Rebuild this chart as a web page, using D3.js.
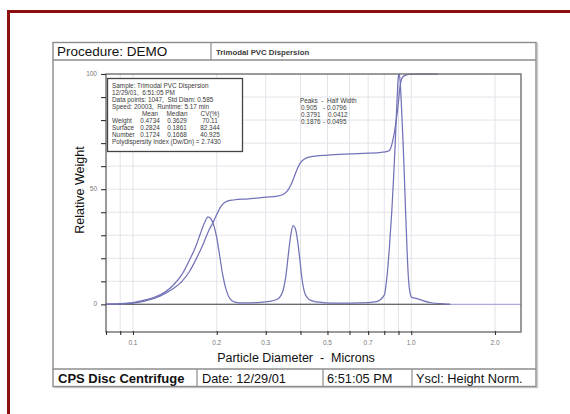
<!DOCTYPE html>
<html><head><meta charset="utf-8">
<script src="https://cdn.jsdelivr.net/npm/d3@7"></script>
<style>
body{margin:0;background:#fff}
text{font-family:"Liberation Sans",Arial,sans-serif}
</style>
</head><body>
<svg id="c" width="570" height="414"></svg>
<script>
// ---------- data ----------
const diffDiam = [0.080,0.090,0.100,0.110,0.120,0.130,0.140,0.150,0.160,0.168,0.175,0.181,0.186,0.191,0.196,0.200,0.205,0.210,0.216,0.223,0.232,0.250,0.280,0.310,0.330,0.345,0.355,0.362,0.369,0.376,0.383,0.390,0.397,0.404,0.412,0.422,0.440,0.480,0.550,0.650,0.750,0.800,0.818,0.835,0.852,0.865,0.876,0.888,0.899,0.905,0.912,0.923,0.935,0.945,0.954,0.965,0.976,0.990,1.005,1.050,1.100,1.180,1.300,1.380];
const diffVal  = [0.1,0.3,0.8,1.8,3.2,5.2,8.5,13,19.5,25,31,35.5,38,37,33.5,29,21,13,6.5,2.5,1.0,0.6,0.8,1.3,2.2,5.5,13,22,30,34.2,33,28,20.5,12,6,3,1.5,0.8,0.5,0.6,1.2,4,12,25,41,56,70,87,99,100,97,85,70,55,41,25,12.3,5,3,2.5,1.6,0.7,0.2,0];
const cumDiam  = [0.080,0.090,0.100,0.110,0.125,0.140,0.150,0.160,0.170,0.180,0.188,0.194,0.200,0.207,0.217,0.230,0.260,0.300,0.330,0.347,0.360,0.370,0.380,0.390,0.400,0.415,0.433,0.500,0.600,0.700,0.780,0.820,0.838,0.850,0.865,0.876,0.888,0.899,0.910,0.922,0.935,0.960,1.000,1.250];
const cumVal   = [0,0.2,0.5,1.4,3.6,7,10,14.5,20.5,27,32.5,35.5,39,42.5,44.7,45.3,45.8,46.5,47,47.8,49.5,52,55.5,59,61.5,63.2,64,64.8,65.3,65.6,66,66.4,67,69,73,77,82,87.5,94,97.5,98.8,99.6,100,100];

const xTicks = [0.08,0.09,0.1,0.2,0.3,0.4,0.5,0.6,0.7,0.8,0.9,1.0,2.0];
const xLabelTicks = [0.1,0.2,0.3,0.5,0.7,1.0,2.0];
const xLabelText  = ["0.1","0.2","0.3","0.5","0.7","1.0","2.0"];
const yTicks = [0,10,20,30,40,50,60,70,80,90,100];
const yLabelTicks = [0,50,100];

const infoLines = ["Sample: Trimodal PVC Dispersion","12/29/01,  6:51:05 PM","Data points: 1047,  Std Diam: 0.585","Speed: 20003,  Runtime: 5.17 min"];
const statHeads = ["Mean","Median","CV(%)"];
const statRows = ["Weight","Surface","Number"];
const statMean = ["0.4734","0.2824","0.1724"];
const statMedian = ["0.3629","0.1861","0.1668"];
const statCV = ["70.11","82.344","40.925"];
const pdiLine = "Polydispersity Index (Dw/Dn) = 2.7430";
const peakPos = ["0.905","0.3791","0.1876"];
const peakHW = ["- 0.0796","0.0412","- 0.0495"];

const footerCells = ["CPS Disc Centrifuge","Date: 12/29/01","6:51:05 PM","Yscl: Height Norm."];

// ---------- drawing ----------
const svg = d3.select("#c");
const x = d3.scaleLog().domain([0.08, 2.48]).range([106, 521]);
const y = d3.scaleLinear().domain([-12, 100]).range([332, 74]);
const curveCol = "#7272b8";

// outer red frame
svg.append("rect").attr("x",8.5).attr("y",11.5).attr("width",800).attr("height",800)
  .attr("fill","none").attr("stroke","#8a0f0f").attr("stroke-width",3);

// report frame
svg.append("rect").attr("x",54.5).attr("y",43.5).attr("width",483).attr("height",344)
  .attr("fill","none").attr("stroke","#cfcfcf").attr("stroke-width",1.5);
svg.append("rect").attr("x",53).attr("y",42.5).attr("width",483).attr("height",344)
  .attr("fill","#fff").attr("stroke","#8c8c8c").attr("stroke-width",1.4);
svg.append("line").attr("x1",53).attr("x2",536).attr("y1",60).attr("y2",60).attr("stroke","#8c8c8c").attr("stroke-width",1.3);
svg.append("line").attr("x1",53).attr("x2",536).attr("y1",369).attr("y2",369).attr("stroke","#8c8c8c").attr("stroke-width",1.3);
svg.append("line").attr("x1",211).attr("x2",211).attr("y1",42.5).attr("y2",60).attr("stroke","#8c8c8c").attr("stroke-width",1.2);

svg.append("text").attr("x",57).attr("y",56).attr("font-size",13.5).attr("fill","#111").text("Procedure: DEMO");
svg.append("text").attr("x",216).attr("y",54.5).attr("font-size",7.8).attr("font-weight","bold").attr("fill","#3a3a3a").text("Trimodal PVC Dispersion");

// footer
const footX = [58,202,327,416];
const footDiv = [197,323,412];
footDiv.forEach(v=>svg.append("line").attr("x1",v).attr("x2",v).attr("y1",369).attr("y2",386.5).attr("stroke","#8c8c8c").attr("stroke-width",1.2));
footerCells.forEach((t,i)=>svg.append("text").attr("x",footX[i]).attr("y",383).attr("font-size",i===0?13:12.8)
  .attr("font-weight", i===0?"bold":"normal").attr("fill","#111").text(t));

// gridlines
const g = svg.append("g");
g.selectAll("line.vg").data(xTicks.slice(1)).join("line")
  .attr("x1",d=>x(d)).attr("x2",d=>x(d)).attr("y1",y.range()[1]).attr("y2",y.range()[0])
  .attr("stroke","#e3e3ea").attr("stroke-width",1);
g.selectAll("line.hg").data(yTicks.filter(d=>d>0&&d<100)).join("line")
  .attr("x1",x.range()[0]).attr("x2",x.range()[1]).attr("y1",d=>y(d)).attr("y2",d=>y(d))
  .attr("stroke","#e3e3ea").attr("stroke-width",1);

// zero line
svg.append("line").attr("x1",x.range()[0]).attr("x2",x.range()[1]).attr("y1",y(0)).attr("y2",y(0))
  .attr("stroke","#ababdc").attr("stroke-width",1.2);
const ext = d3.extent(diffDiam);
svg.append("line").attr("x1",x(ext[0])).attr("x2",x(ext[1])).attr("y1",y(0)).attr("y2",y(0))
  .attr("stroke","#6a6a6a").attr("stroke-width",1.4);

// curves
const line = d3.line().x(d=>x(d[0])).y(d=>y(d[1])).curve(d3.curveMonotoneX);
svg.append("path").datum(d3.zip(cumDiam,cumVal)).attr("d",line)
  .attr("fill","none").attr("stroke",curveCol).attr("stroke-width",1.25);
svg.append("path").datum(d3.zip(diffDiam,diffVal)).attr("d",line)
  .attr("fill","none").attr("stroke",curveCol).attr("stroke-width",1.25);

// plot frame
svg.append("rect").attr("x",x.range()[0]).attr("y",y.range()[1]).attr("width",x.range()[1]-x.range()[0])
  .attr("height",y.range()[0]-y.range()[1]).attr("fill","none").attr("stroke","#707070").attr("stroke-width",1.4);

// axes
const xAxis = d3.axisBottom(x).tickValues(xTicks).tickSize(4).tickFormat(()=>"");
const xa = svg.append("g").attr("transform",`translate(0,${y.range()[0]-1})`).call(xAxis);
xa.select(".domain").remove();
xa.selectAll("line").attr("stroke","#333").attr("stroke-width",1.1);
svg.selectAll("text.xl").data(xLabelTicks).join("text").attr("class","xl")
  .attr("x",d=>x(d)).attr("y",344.5).attr("text-anchor","middle").attr("font-size",6.5).attr("fill","#777")
  .text((d,i)=>xLabelText[i]);

const yAxis = d3.axisLeft(y).tickValues(yTicks).tickSize(5).tickFormat(()=>"");
const ya = svg.append("g").attr("transform",`translate(${x.range()[0]},0)`).call(yAxis);
ya.select(".domain").remove();
ya.selectAll("line").attr("stroke","#333").attr("stroke-width",1.1);
svg.selectAll("text.yl").data(yLabelTicks).join("text").attr("class","yl")
  .attr("x",97).attr("y",d=>y(d)+2).attr("text-anchor","end").attr("font-size",6.5).attr("fill","#777")
  .text(d=>d);

svg.append("text").attr("transform","translate(84,190) rotate(-90)").attr("text-anchor","middle")
  .attr("font-size",12.5).attr("fill","#111").text("Relative Weight");
svg.append("text").attr("x",296).attr("y",362).attr("text-anchor","middle").attr("font-size",12.5)
  .attr("fill","#111").style("white-space","pre").text("Particle Diameter  -  Microns");

// info box
svg.append("rect").attr("x",107.5).attr("y",78.5).attr("width",135).attr("height",73)
  .attr("fill","#fff").attr("stroke","#444").attr("stroke-width",1.3);
const fs = 6.4, lh = 7.05, ly0 = 87.5;
infoLines.forEach((t,i)=>svg.append("text").attr("x",112).attr("y",ly0+i*lh).attr("font-size",fs).attr("fill","#3a3a3a").style("white-space","pre").text(t));
const headX = [150,177,210];
const colX = [150,177,210];
statHeads.forEach((t,j)=>svg.append("text").attr("x",headX[j]).attr("y",ly0+4*lh).attr("text-anchor","middle").attr("font-size",fs).attr("fill","#3a3a3a").text(t));
statRows.forEach((t,i)=>{
  const yy = ly0+(5+i)*lh;
  svg.append("text").attr("x",112).attr("y",yy).attr("font-size",fs).attr("fill","#3a3a3a").text(t);
  [statMean[i],statMedian[i],statCV[i]].forEach((v,j)=>svg.append("text").attr("x",colX[j]).attr("y",yy)
    .attr("text-anchor","middle").attr("font-size",fs).attr("fill","#3a3a3a").text(v));
});
svg.append("text").attr("x",112).attr("y",ly0+8*lh).attr("font-size",fs).attr("fill","#3a3a3a").text(pdiLine);

// peaks
svg.append("text").attr("x",300).attr("y",103).attr("font-size",fs).attr("fill","#3a3a3a").style("white-space","pre").text("Peaks  -  Half Width");
peakPos.forEach((p,i)=>{
  const yy = 110+i*6.8;
  svg.append("text").attr("x",301).attr("y",yy).attr("font-size",fs).attr("fill","#3a3a3a").text(p);
  svg.append("text").attr("x",i===1?328:323).attr("y",yy).attr("font-size",fs).attr("fill","#3a3a3a").text(peakHW[i]);
});
</script>
</body></html>
